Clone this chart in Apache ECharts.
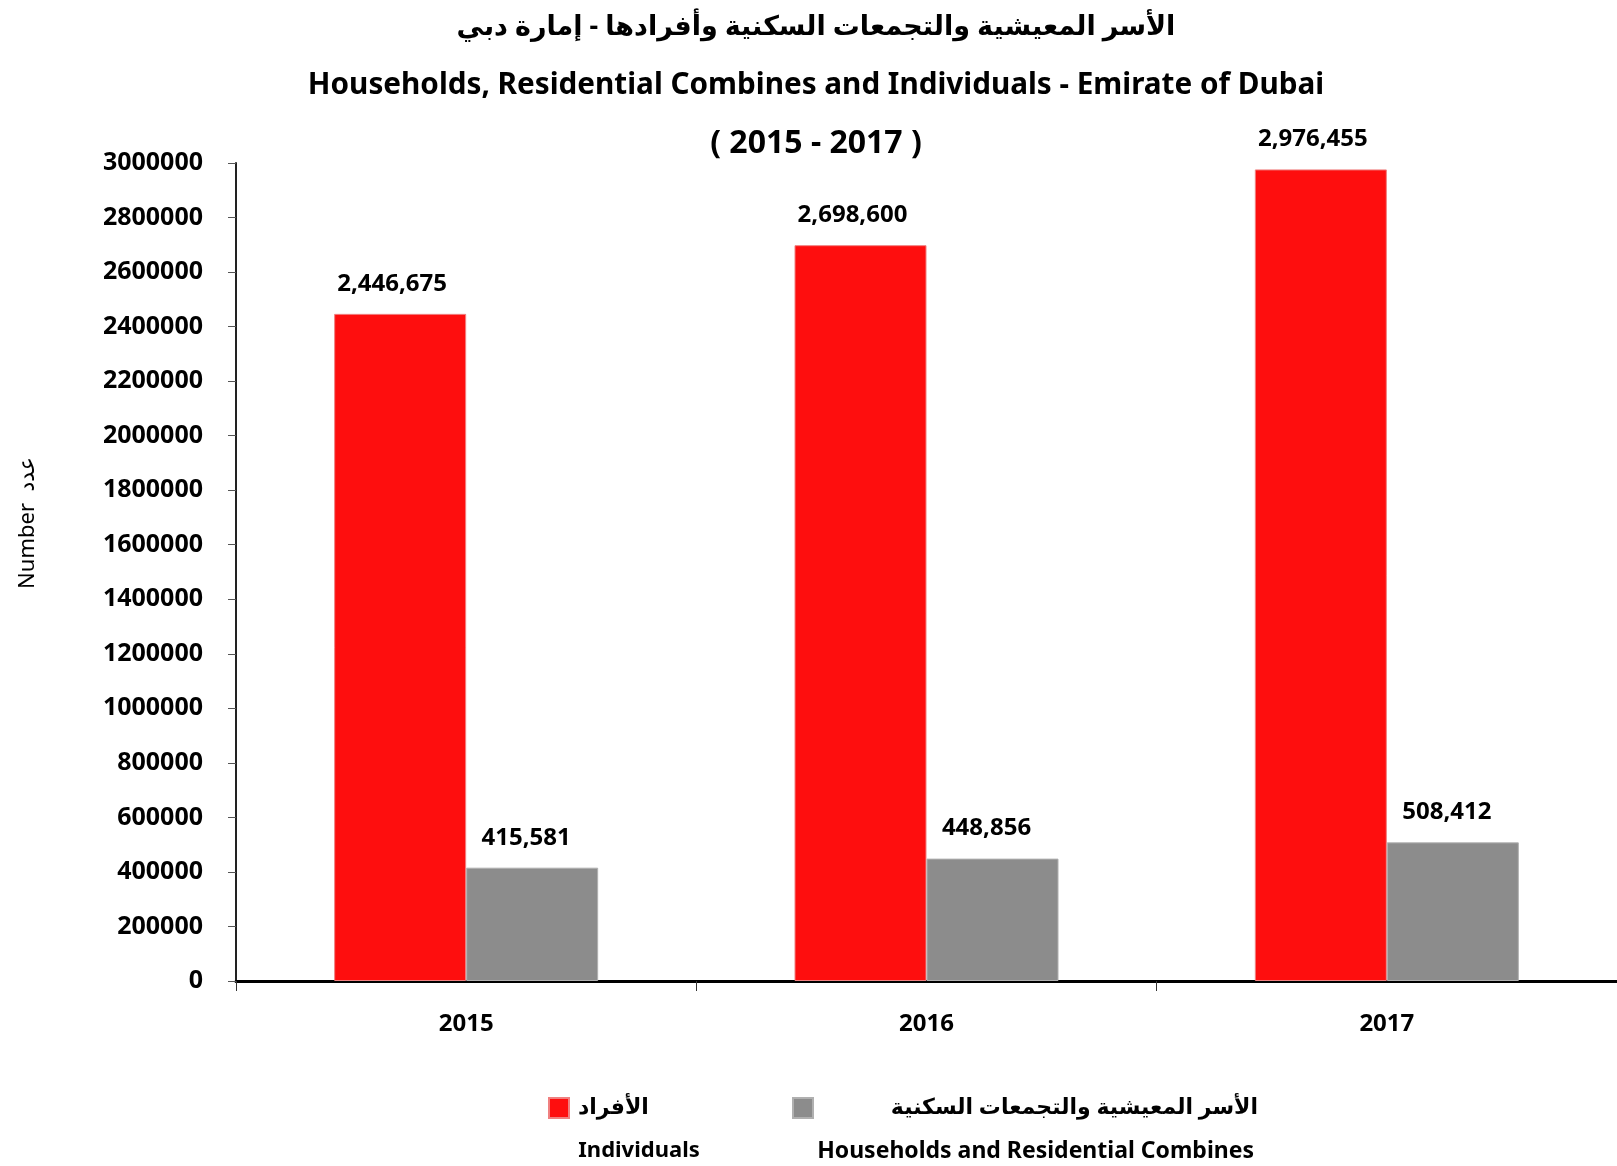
<!DOCTYPE html>
<html>
<head>
<meta charset="utf-8">
<script src="https://cdn.jsdelivr.net/npm/echarts@6/dist/echarts.min.js"></script>
<style>
  html, body { margin: 0; padding: 0; background: #fff; }
  #chart { width: 1617px; height: 1166px; }
</style>
</head>
<body>
<div id="chart"></div>
<script>
// ---- data ----
const years = ['2015', '2016', '2017']
const individuals = [2446675, 2698600, 2976455]
const households = [415581, 448856, 508412]
const nameIndividualsAr = 'الأفراد'
const nameHouseholdsAr = 'الأسر المعيشية والتجمعات السكنية'
const nameIndividualsEn = 'Individuals'
const nameHouseholdsEn = 'Households and Residential Combines'

const FONT = '"Noto Sans", "DejaVu Sans", sans-serif'

const chart = echarts.init(document.getElementById('chart'))

const fmt = (p) => p.value.toLocaleString('en-US')

// titles are centred a bit right of the page middle
const TITLE_X = 811

const option = {
  backgroundColor: '#fff',
  animation: false,
  title: [
    {
      text: 'الأسر المعيشية والتجمعات السكنية وأفرادها - إمارة دبي',
      left: TITLE_X, textAlign: 'center', top: 9,
      textStyle: { fontFamily: FONT, fontSize: 27, fontWeight: 'bold', color: '#000' }
    },
    {
      text: 'Households, Residential Combines and Individuals - Emirate of Dubai',
      left: TITLE_X, textAlign: 'center', top: 66,
      textStyle: { fontFamily: FONT, fontSize: 29.7, fontWeight: 'bold', color: '#000' }
    },
    {
      text: '( 2015 - 2017 )',
      left: TITLE_X, textAlign: 'center', top: 123,
      textStyle: { fontFamily: FONT, fontSize: 32, fontWeight: 'bold', color: '#000' }
    }
  ],
  grid: { left: 236, top: 163, width: 1387, height: 818, containLabel: false },
  legend: [
    {
      data: [nameIndividualsAr],
      left: 543, top: 1092,
      itemWidth: 20, itemHeight: 20, itemGap: 6,
      icon: 'rect',
      formatter: (n) => '{r|' + n + '}',
      textStyle: {
        fontFamily: FONT, fontSize: 22, fontWeight: 'bold', color: '#000',
        rich: { r: { padding: [0, 0, 0, 4], fontFamily: FONT, fontSize: 22, fontWeight: 'bold', color: '#000' } }
      }
    },
    {
      data: [nameHouseholdsAr],
      left: 787, top: 1092,
      itemWidth: 20, itemHeight: 20, itemGap: 6,
      icon: 'rect',
      formatter: (n) => '{r|' + n + '}',
      textStyle: {
        fontFamily: FONT, fontSize: 22, fontWeight: 'bold', color: '#000',
        rich: { r: { width: 440, align: 'right', fontFamily: FONT, fontSize: 22, fontWeight: 'bold', color: '#000' } }
      }
    }
  ],
  graphic: [
    {
      type: 'text', x: 28, y: 523, rotation: Math.PI / 2,
      style: { text: 'Number  عدد', fontFamily: FONT, fontSize: 22, fill: '#000', align: 'center', verticalAlign: 'middle' }
    },
    {
      type: 'text', x: 639, y: 1151,
      style: { text: nameIndividualsEn, fontFamily: FONT, fontSize: 22, fontWeight: 'bold', fill: '#000', align: 'center', verticalAlign: 'middle' }
    },
    {
      type: 'text', x: 1254, y: 1151,
      style: { text: nameHouseholdsEn, fontFamily: FONT, fontSize: 23, fontWeight: 'bold', fill: '#000', align: 'right', verticalAlign: 'middle' }
    }
  ],
  xAxis: {
    type: 'category',
    data: years,
    axisLine: { lineStyle: { color: '#000', width: 3 } },
    axisTick: { show: true, length: 10, lineStyle: { color: '#333', width: 1 } },
    axisLabel: { margin: 31, fontFamily: FONT, fontSize: 24, fontWeight: 'bold', color: '#000' },
    splitLine: { show: false }
  },
  yAxis: {
    type: 'value',
    min: 0, max: 3000000, interval: 200000,
    axisLine: { show: true, lineStyle: { color: '#222', width: 2 } },
    axisTick: { show: true, length: 8, lineStyle: { color: '#555', width: 1 } },
    axisLabel: { margin: 33, formatter: (v) => String(v), fontFamily: FONT, fontSize: 25, fontWeight: 'bold', color: '#000' },
    splitLine: { show: false }
  },
  series: [
    {
      name: nameIndividualsAr,
      type: 'bar',
      data: individuals,
      barWidth: 132,
      barGap: '0%',
      itemStyle: { color: '#fe0e0e', borderColor: '#f08080', borderWidth: 1 },
      label: {
        show: true, position: 'top', distance: 18, offset: [-8, 0],
        formatter: fmt,
        fontFamily: FONT, fontSize: 24, fontWeight: 'bold', color: '#000'
      }
    },
    {
      name: nameHouseholdsAr,
      type: 'bar',
      data: households,
      barWidth: 132,
      itemStyle: { color: '#8c8c8c', borderColor: '#b0b0b0', borderWidth: 1 },
      label: {
        show: true, position: 'top', distance: 18, offset: [-6, 0],
        formatter: fmt,
        fontFamily: FONT, fontSize: 24, fontWeight: 'bold', color: '#000'
      }
    }
  ]
}

chart.setOption(option)
</script>
</body>
</html>
